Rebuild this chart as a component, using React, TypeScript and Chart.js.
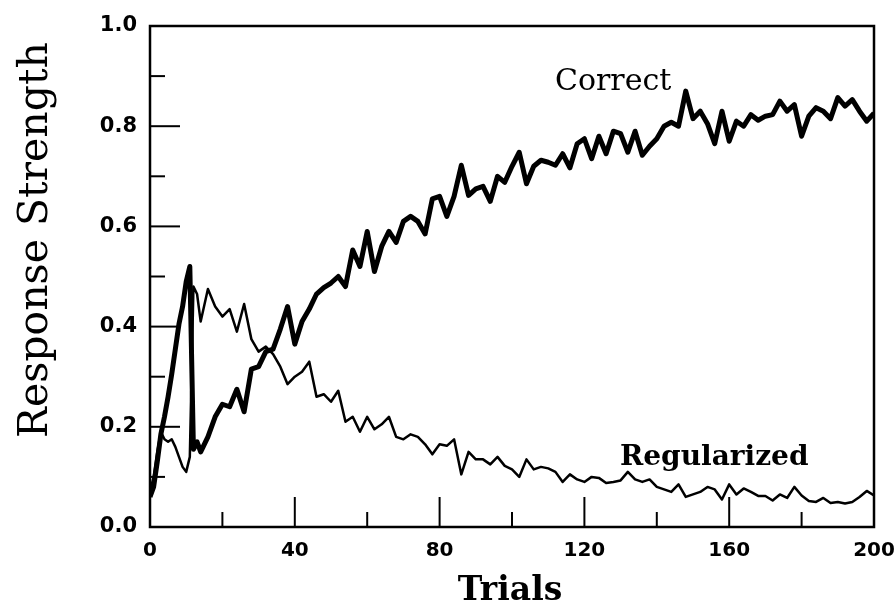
import React, { useEffect, useRef } from "react";
import { Chart, registerables } from "chart.js";

Chart.register(...registerables);

// ---- data ----
const trials = [
  0, 1, 2, 3, 4, 5, 6, 7, 8, 9, 10, 11, 12, 13, 14,
  16, 18, 20, 22, 24, 26, 28, 30, 32, 34,
  36, 38, 40, 42, 44, 46, 48, 50, 52, 54,
  56, 58, 60, 62, 64, 66, 68, 70, 72, 74,
  76, 78, 80, 82, 84, 86, 88, 90, 92, 94,
  96, 98, 100, 102, 104, 106, 108, 110, 112, 114,
  116, 118, 120, 122, 124, 126, 128, 130, 132, 134,
  136, 138, 140, 142, 144, 146, 148, 150, 152, 154,
  156, 158, 160, 162, 164, 166, 168, 170, 172, 174,
  176, 178, 180, 182, 184, 186, 188, 190, 192, 194,
  196, 198, 200,
];

const correct = [
  0.06, 0.08, 0.13, 0.185, 0.22, 0.26, 0.305, 0.355, 0.405, 0.44, 0.49, 0.52, 0.155, 0.17, 0.15,
  0.18, 0.22, 0.245, 0.24, 0.275, 0.23, 0.315, 0.32, 0.35, 0.355,
  0.395, 0.44, 0.365, 0.41, 0.435, 0.465, 0.478, 0.487, 0.5, 0.48,
  0.553, 0.52, 0.59, 0.51, 0.56, 0.59, 0.568, 0.61, 0.62, 0.61,
  0.585, 0.655, 0.66, 0.62, 0.66, 0.722, 0.662, 0.675, 0.68, 0.65,
  0.7, 0.688, 0.72, 0.748, 0.685, 0.72, 0.732, 0.728, 0.722, 0.745,
  0.717, 0.765, 0.775, 0.735, 0.78, 0.745, 0.79, 0.785, 0.748, 0.79,
  0.742, 0.76, 0.775, 0.8, 0.808, 0.8, 0.87, 0.815, 0.83, 0.805,
  0.765, 0.83, 0.77, 0.81, 0.8, 0.823, 0.812, 0.82, 0.823, 0.85,
  0.83, 0.843, 0.78, 0.82, 0.837, 0.83, 0.815, 0.857, 0.84, 0.853,
  0.83, 0.81, 0.826,
];

const regularized = [
  0.07, 0.1, 0.15, 0.19, 0.175, 0.17, 0.175, 0.16, 0.14, 0.12, 0.11, 0.14, 0.48, 0.465, 0.41,
  0.475, 0.44, 0.42, 0.435, 0.39, 0.445, 0.375, 0.35, 0.36, 0.345,
  0.32, 0.285, 0.3, 0.31, 0.33, 0.26, 0.265, 0.25, 0.272, 0.21,
  0.22, 0.19, 0.22, 0.195, 0.205, 0.22, 0.18, 0.175, 0.185, 0.18,
  0.165, 0.145, 0.165, 0.162, 0.175, 0.105, 0.15, 0.135, 0.135, 0.125,
  0.14, 0.122, 0.115, 0.1, 0.135, 0.115, 0.12, 0.117, 0.11, 0.09,
  0.105, 0.095, 0.09, 0.1, 0.098, 0.088, 0.09, 0.093, 0.11, 0.095,
  0.09, 0.095, 0.08, 0.075, 0.07, 0.085, 0.06, 0.065, 0.07, 0.08,
  0.075, 0.055, 0.085, 0.065, 0.077, 0.07, 0.062, 0.062, 0.053, 0.065,
  0.058, 0.08, 0.063, 0.052, 0.05, 0.058, 0.048, 0.05, 0.047, 0.05,
  0.06, 0.072, 0.063,
];

const xTickLabels = ["0", "40", "80", "120", "160", "200"];
const yTickLabels = ["0.0", "0.2", "0.4", "0.6", "0.8", "1.0"];
const xMinorTicks = [20, 60, 100, 140, 180];
const xMajorTicks = [40, 80, 120, 160];
const yMinorTicks = [0.1, 0.3, 0.5, 0.7, 0.9];
const yMajorTicks = [0.2, 0.4, 0.6, 0.8];
const xTitle = "Trials";
const yTitle = "Response Strength";
const seriesNames = ["Correct", "Regularized"];

export default function App() {
  const ref = useRef<HTMLCanvasElement>(null);

  useEffect(() => {
    document.body.style.margin = "0";
    const canvas = ref.current;
    if (!canvas) return;

    const framePlugin = {
      id: "frameAndText",
      afterDraw(chart: any) {
        const { ctx, chartArea: a, scales } = chart;
        const xs = scales.x;
        const ys = scales.y;
        ctx.save();
        ctx.strokeStyle = "#000";
        ctx.lineWidth = 2.5;
        ctx.strokeRect(a.left, a.top, a.right - a.left, a.bottom - a.top);
        ctx.lineWidth = 2;
        const hl = (x1: number, y1: number, x2: number, y2: number) => {
          ctx.beginPath();
          ctx.moveTo(x1, y1);
          ctx.lineTo(x2, y2);
          ctx.stroke();
        };
        yMajorTicks.forEach((v) => {
          const py = ys.getPixelForValue(v);
          hl(a.left, py, a.left + 30, py);
        });
        yMinorTicks.forEach((v) => {
          const py = ys.getPixelForValue(v);
          hl(a.left, py, a.left + 15, py);
        });
        xMajorTicks.forEach((v) => {
          const px = xs.getPixelForValue(v);
          hl(px, a.bottom, px, a.bottom - 30);
        });
        xMinorTicks.forEach((v) => {
          const px = xs.getPixelForValue(v);
          hl(px, a.bottom, px, a.bottom - 15);
        });

        ctx.fillStyle = "#000";
        ctx.textBaseline = "alphabetic";
        // y title
        ctx.save();
        ctx.translate(47, 240);
        ctx.rotate(-Math.PI / 2);
        ctx.textAlign = "center";
        ctx.font = "41px 'DejaVu Serif'";
        ctx.fillText(yTitle, 0, 0);
        ctx.restore();
        // x title
        ctx.textAlign = "center";
        ctx.font = "bold 33px 'DejaVu Serif'";
        ctx.fillText(xTitle, 510, 600);
        // series annotations
        ctx.textAlign = "left";
        ctx.font = "30px 'DejaVu Serif'";
        ctx.fillText(seriesNames[0], 555, 90);
        ctx.font = "bold 28px 'DejaVu Serif'";
        ctx.fillText(seriesNames[1], 620, 465);
        ctx.restore();
      },
    };

    const chart = new Chart(canvas, {
      type: "line",
      data: {
        datasets: [
          {
            label: seriesNames[0],
            data: trials.map((t, i) => ({ x: t, y: correct[i] })),
            borderColor: "#000",
            borderWidth: 5,
            borderJoinStyle: "round",
            pointRadius: 0,
            tension: 0,
            fill: false,
          },
          {
            label: seriesNames[1],
            data: trials.map((t, i) => ({ x: t, y: regularized[i] })),
            borderColor: "#000",
            borderWidth: 2.5,
            borderJoinStyle: "round",
            pointRadius: 0,
            tension: 0,
            fill: false,
          },
        ],
      },
      options: {
        responsive: false,
        animation: false,
        devicePixelRatio: 1,
        layout: { padding: { left: 0, top: 26, right: 21, bottom: 0 } },
        plugins: { legend: { display: false }, tooltip: { enabled: false } },
        scales: {
          x: {
            type: "linear",
            min: 0,
            max: 200,
            grid: { display: false, drawTicks: false },
            border: { display: false },
            ticks: {
              stepSize: 40,
              padding: 12,
              color: "#000",
              maxRotation: 0,
              font: { family: "DejaVu Sans", size: 20, weight: "bold" },
              callback: (_v: any, i: number) => xTickLabels[i],
            },
            afterFit: (s: any) => {
              s.height = 76;
              s.paddingLeft = 0;
              s.paddingRight = 0;
            },
          },
          y: {
            type: "linear",
            min: 0,
            max: 1,
            grid: { display: false, drawTicks: false },
            border: { display: false },
            ticks: {
              stepSize: 0.2,
              padding: 13,
              color: "#000",
              font: { family: "DejaVu Sans", size: 21, weight: "bold" },
              callback: (_v: any, i: number) => yTickLabels[i],
            },
            afterFit: (s: any) => {
              s.width = 150;
              s.paddingTop = 0;
              s.paddingBottom = 0;
            },
          },
        },
      },
      plugins: [framePlugin],
    });

    return () => chart.destroy();
  }, []);

  return (
    <div style={{ position: "fixed", left: 0, top: 0, width: 895, height: 603, background: "#fff" }}>
      <canvas ref={ref} width={895} height={603} style={{ display: "block" }} />
    </div>
  );
}
